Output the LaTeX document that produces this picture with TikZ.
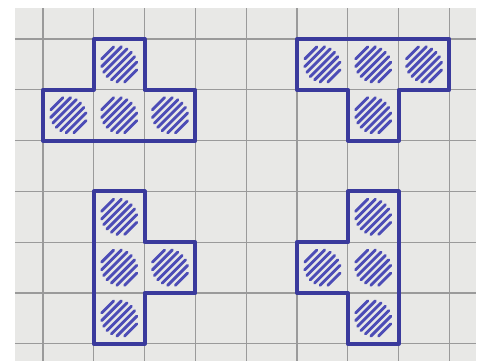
\documentclass[tikz,border=0pt]{standalone}
\usepackage{tikz}

\definecolor{paper}{HTML}{E8E8E6}
\definecolor{gridgray}{HTML}{9A9A9A}
\definecolor{ink}{HTML}{3A3A9C}
\definecolor{hatchink}{HTML}{4C4CB6}

\tikzset{
    gridline/.style={gridgray, line width=0.7pt},
    outline/.style={ink, line width=2.2pt, line join=round},
    hatch/.style={hatchink, line width=1.6pt, line cap=round},
}

% shaded cell with top-left corner at (#1,#2)
\newcommand{\hatchcell}[2]{%
    \foreach \k in {-3,...,3} {
        \pgfmathsetmacro{\p}{0.107*\k}
        \pgfmathsetmacro{\L}{0.92*sqrt(0.37^2-(\p)^2)}
        \draw[hatch] (#1+0.5+0.7071*\p-0.7071*\L, #2+0.5+0.7071*\p+0.7071*\L)
            -- ++(1.4142*\L,-1.4142*\L);
    }}

\begin{document}
\begin{tikzpicture}[x=1cm, y=-1cm]
    \useasboundingbox (-0.846,-0.768) rectangle (8.681,6.339);

    \pgfmathsetmacro{\pl}{-0.551}
    \pgfmathsetmacro{\pr}{8.524}
    \pgfmathsetmacro{\pt}{-0.61}
    \pgfmathsetmacro{\pb}{6.339}

    \fill[paper] (\pl,\pt) rectangle (\pr,\pb);
    \foreach \c in {0,...,8}
        \draw[gridline] (\c,\pt) -- (\c,\pb);
    \foreach \r in {0,...,6}
        \draw[gridline] (\pl,\r) -- (\pr,\r);

    \foreach \c/\r in {1/0, 0/1, 1/1, 2/1,
                       5/0, 6/0, 7/0, 6/1,
                       1/3, 1/4, 1/5, 2/4,
                       6/3, 6/4, 6/5, 5/4}
        \hatchcell{\c}{\r};

    \draw[outline] (1,0) -- (2,0) -- (2,1) -- (3,1) -- (3,2) -- (0,2) -- (0,1) -- (1,1) -- cycle;
    \draw[outline] (5,0) -- (8,0) -- (8,1) -- (7,1) -- (7,2) -- (6,2) -- (6,1) -- (5,1) -- cycle;
    \draw[outline] (1,3) -- (2,3) -- (2,4) -- (3,4) -- (3,5) -- (2,5) -- (2,6) -- (1,6) -- cycle;
    \draw[outline] (6,3) -- (7,3) -- (7,6) -- (6,6) -- (6,5) -- (5,5) -- (5,4) -- (6,4) -- cycle;

\end{tikzpicture}
\end{document}
